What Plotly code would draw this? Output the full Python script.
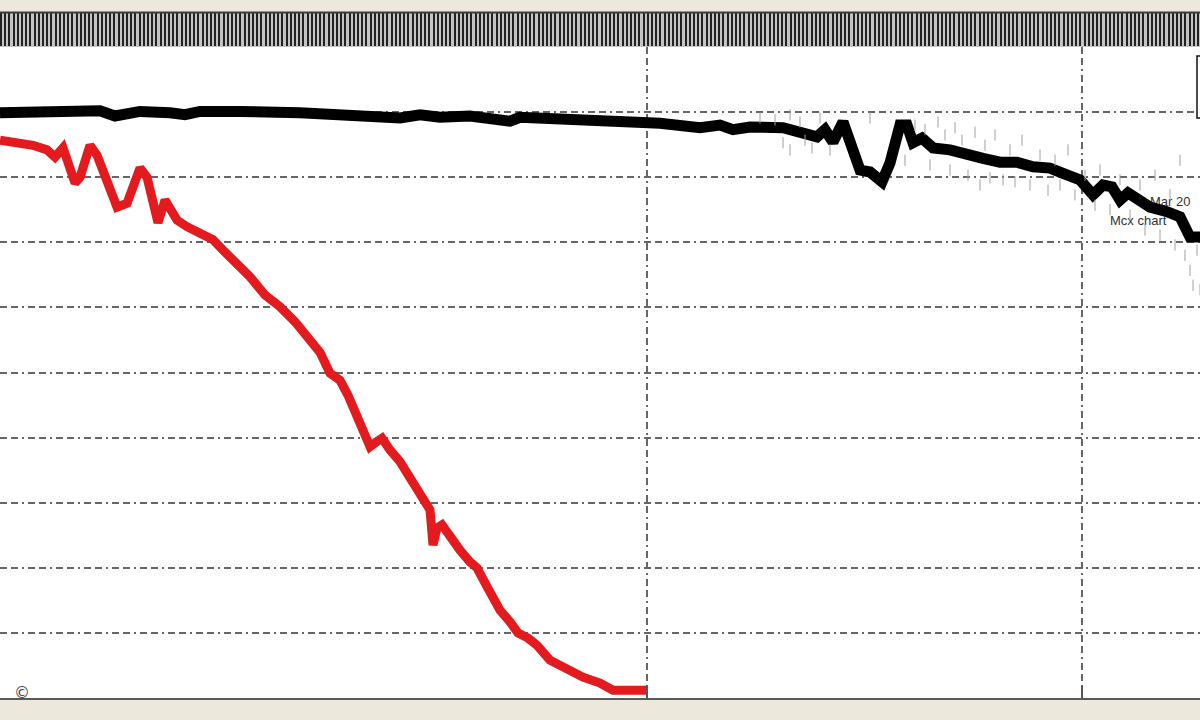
import plotly.graph_objects as go

# ---- data (x in sample units, y in chart units) ----
red_x = [0, 20, 33, 47, 55, 63, 70, 75, 80, 90, 97, 107, 117, 127, 140, 147, 153, 158, 165, 172,
         177, 187, 200, 213, 223, 235, 250, 265, 280, 295, 310, 320, 330, 340, 348, 355, 362, 370,
         376, 382, 390, 400, 408, 417, 425, 430, 433, 437, 442, 450, 460, 470, 477, 487, 500, 510,
         518, 528, 537, 550, 567, 583, 600, 613, 630, 647]
red_y = [8.57, 8.54, 8.49, 8.42, 8.31, 8.45, 8.16, 7.91, 8.00, 8.49, 8.34, 7.91, 7.54, 7.60, 8.14,
         8.00, 7.65, 7.30, 7.65, 7.50, 7.34, 7.24, 7.14, 7.04, 6.88, 6.70, 6.47, 6.19, 6.01, 5.78,
         5.50, 5.31, 4.99, 4.88, 4.65, 4.39, 4.15, 3.86, 3.93, 3.99, 3.81, 3.63, 3.43, 3.20, 3.01,
         2.89, 2.35, 2.61, 2.66, 2.47, 2.27, 2.09, 2.00, 1.71, 1.35, 1.17, 1.00, 0.92, 0.81, 0.58,
         0.43, 0.32, 0.23, 0.12, 0.12, 0.12]

black_x = [0, 40, 75, 100, 115, 130, 140, 170, 185, 200, 215, 240, 300, 350, 380, 400, 420, 440,
           470, 490, 510, 520, 560, 600, 640, 660, 700, 720, 733, 750, 783, 807, 817, 825, 833,
           843, 853, 860, 870, 882, 890, 900, 907, 913, 922, 933, 950, 967, 983, 1000, 1017, 1033,
           1050, 1063, 1080, 1093, 1103, 1112, 1120, 1128, 1137, 1150, 1167, 1180, 1190, 1200]
black_y = [8.99, 8.99, 9.01, 9.02, 8.94, 8.96, 9.01, 8.99, 8.96, 9.01, 9.02, 9.01, 8.99, 8.97,
           8.94, 8.91, 8.96, 8.92, 8.94, 8.89, 8.86, 8.92, 8.89, 8.86, 8.86, 8.83, 8.76, 8.80,
           8.73, 8.77, 8.76, 8.69, 8.62, 8.73, 8.54, 8.85, 8.46, 8.11, 8.08, 7.93, 8.22, 8.80,
           8.80, 8.53, 8.60, 8.45, 8.42, 8.37, 8.29, 8.23, 8.23, 8.16, 8.14, 8.06, 7.96, 7.73,
           7.88, 7.85, 7.65, 7.76, 7.65, 7.54, 7.47, 7.39, 7.08, 7.08]

noise_x = [760, 775, 790, 800, 805, 812, 820, 830, 790, 783, 870, 905, 915, 925, 930, 938, 945,
           950, 955, 962, 968, 975, 980, 985, 990, 995, 1003, 1010, 1015, 1022, 1030, 1040, 1048,
           1055, 1060, 1068, 1075, 1085, 1095, 1100, 1110, 1120, 1130, 1140, 1145, 1155, 1160,
           1170, 1175, 1180, 1185, 1190, 1193, 1197, 1200]
noise_y = [8.91, 8.88, 8.96, 8.85, 8.57, 8.45, 8.91, 8.42, 8.42, 8.53, 8.91, 8.26, 8.80, 8.73,
           8.19, 8.85, 8.65, 8.11, 8.76, 8.57, 8.03, 8.69, 7.88, 8.49, 7.99, 8.65, 7.96, 8.42,
           7.93, 8.57, 7.88, 8.34, 7.80, 8.26, 7.88, 8.42, 7.73, 8.03, 7.57, 8.11, 7.50, 7.96,
           7.42, 7.88, 7.19, 8.03, 7.11, 7.73, 6.96, 8.26, 6.80, 6.57, 6.34, 6.88, 6.27]

label_x = [1150, 1110]
label_y = [7.60, 7.31]
label_text = ["Mar 20", "Mcx chart"]

x_grid = [647, 1082]
y_grid = [1, 2, 3, 4, 5, 6, 7, 8, 9]

BEIGE = "#ece9dc"
W, H = 1200, 720
MT, MB = 47, 22
PH = H - MT - MB

fig = go.Figure()

fig.add_trace(go.Scatter(x=noise_x, y=noise_y, mode="markers", xaxis="x2",
                         marker=dict(symbol="line-ns", size=8, color="#a0a0a0",
                                     line=dict(width=1, color="#a0a0a0")),
                         hoverinfo="skip", showlegend=False))
fig.add_trace(go.Scatter(x=label_x, y=label_y, mode="text", text=label_text,
                         textposition="middle right",
                         textfont=dict(family="Liberation Sans", size=13, color="#333"),
                         hoverinfo="skip", showlegend=False))
fig.add_trace(go.Scatter(x=black_x, y=black_y, mode="lines",
                         line=dict(color="#000000", width=11),
                         hoverinfo="skip", showlegend=False))
fig.add_trace(go.Scatter(x=red_x, y=red_y, mode="lines",
                         line=dict(color="#e31b1f", width=9),
                         hoverinfo="skip", showlegend=False))

grid_dash = "7px,4px,7px,4px,2px,4px"
fig.update_layout(
    width=W, height=H,
    margin=dict(l=0, r=0, t=MT, b=MB),
    paper_bgcolor=BEIGE, plot_bgcolor="white",
    hovermode=False,
    xaxis=dict(range=[0, 1200], tickvals=x_grid, showticklabels=False,
               ticks="inside", ticklen=12, tickwidth=2, tickcolor="#555",
               showgrid=True, gridcolor="#666", gridwidth=1.5, griddash=grid_dash,
               showline=True, linecolor="#5a5a5a", linewidth=2, zeroline=False),
    xaxis2=dict(range=[0, 1200], overlaying="x", side="top", showticklabels=False,
                ticks="outside", ticklen=33, tickwidth=2.4, tickcolor="#222",
                tick0=1, dtick=4.2, showgrid=False, zeroline=False, showline=False),
    yaxis=dict(range=[0, 10], tickvals=y_grid, showticklabels=False, ticks="",
               showgrid=True, gridcolor="#666", gridwidth=1.5, griddash=grid_dash,
               zeroline=False, showline=False),
    shapes=[
        dict(type="rect", xref="paper", yref="paper", x0=0, x1=1,
             y0=1, y1=1 + 34 / PH, fillcolor="#c4c4c4", line=dict(width=0), layer="below"),
        dict(type="line", xref="paper", yref="paper", x0=0, x1=1,
             y0=1 + 34.5 / PH, y1=1 + 34.5 / PH, line=dict(color="#3a3a3a", width=2)),
        dict(type="rect", xref="x", yref="y", x0=1197, x1=1240, y0=8.91, y1=9.86,
             fillcolor="white", line=dict(color="#111", width=1.5)),
    ],
    annotations=[
        dict(xref="paper", yref="paper", x=22 / W, y=6 / PH, xanchor="center", yanchor="middle",
             text="©", showarrow=False,
             font=dict(family="DejaVu Sans", size=16, color="#444")),
    ],
)

fig.write_html("out.html", config={"displayModeBar": False},
               post_script="document.body.style.margin='0px';document.body.style.overflow='hidden';")
